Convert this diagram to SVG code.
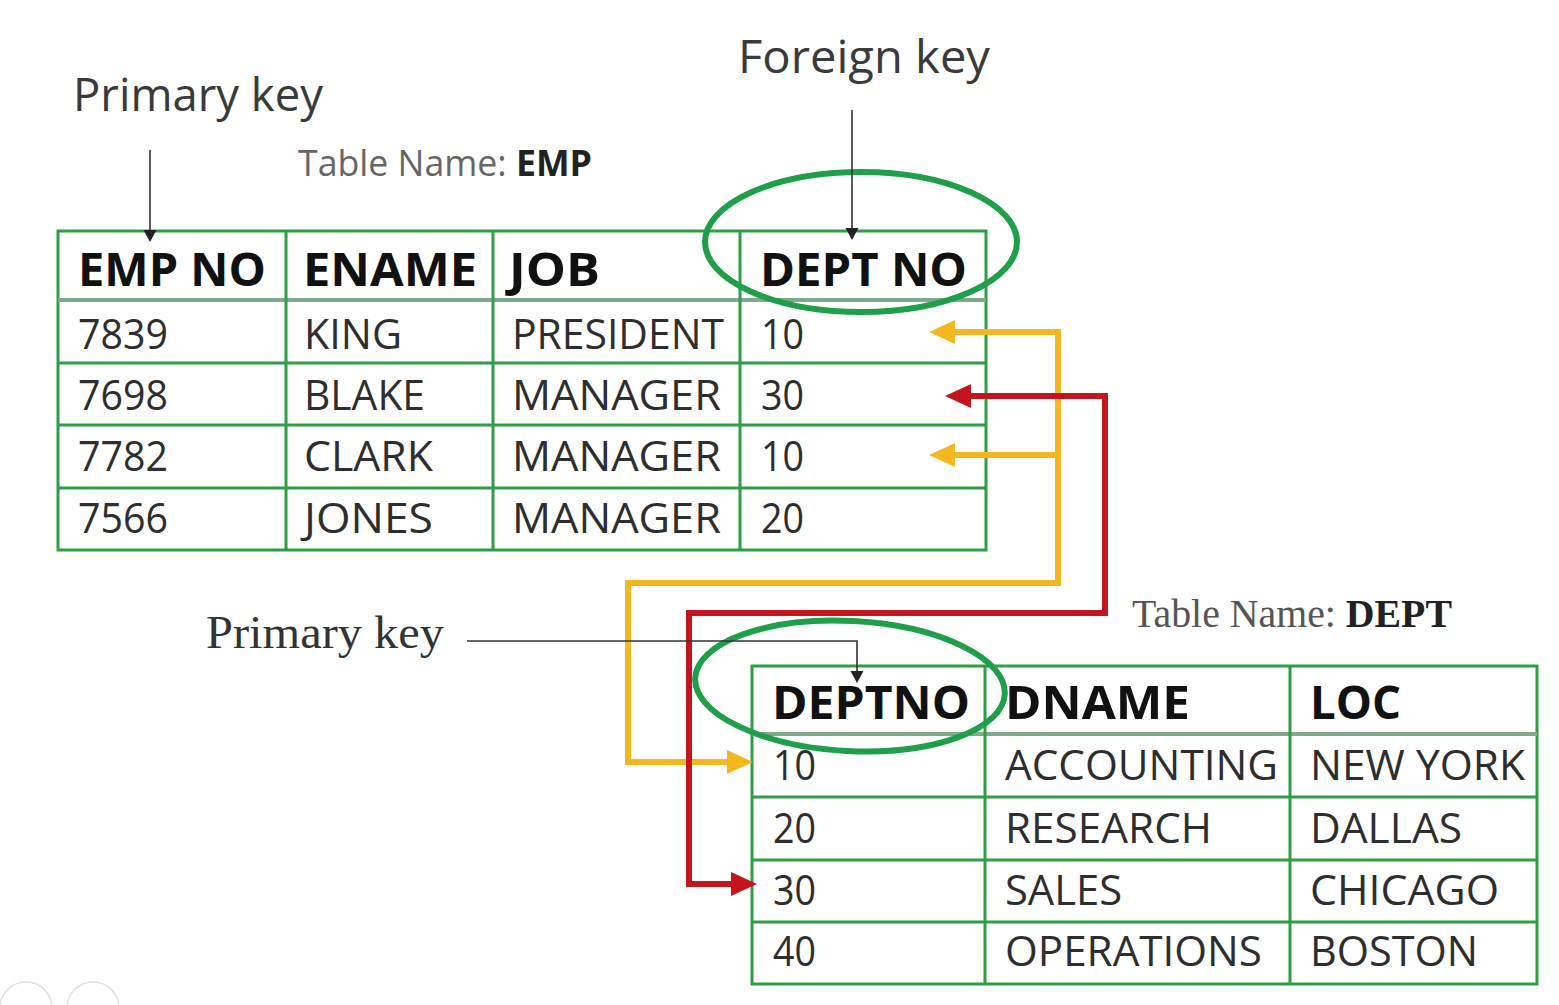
<svg xmlns="http://www.w3.org/2000/svg" width="1559" height="1005" viewBox="0 0 1559 1005">
<style>
.grid{stroke:#2f9e45;stroke-width:3;fill:none}
.hdrline{stroke:#7faa8a;stroke-width:4}
.hdr{font-family:"Open Sans","DejaVu Sans",sans-serif;font-weight:700;font-size:47px;fill:#111}
.cell{font-family:"Open Sans","DejaVu Sans",sans-serif;font-size:42px;fill:#2e2e2e}
.lbl{font-family:"Open Sans","DejaVu Sans",sans-serif;font-size:45px;fill:#3a3a3a}
.tn{font-family:"Open Sans","DejaVu Sans",sans-serif;font-size:36px;fill:#666}
.tns{font-family:"Liberation Serif","Times New Roman",serif;font-size:39px;fill:#555}
.lbls{font-family:"Liberation Serif","Times New Roman",serif;font-size:47px;fill:#333}
.b{font-weight:700;fill:#222}
.thin{stroke:#333;stroke-width:1.6;fill:none}
.yel{stroke:#f4b720;stroke-width:6;fill:none}
.red{stroke:#c4151c;stroke-width:6;fill:none}
.ell{stroke:#1ea04a;stroke-width:6;fill:none}
</style>
<defs>
<marker id="ahk" viewBox="0 -7 13 14" markerWidth="13" markerHeight="14" refX="0" refY="0" orient="auto" markerUnits="userSpaceOnUse"><path d="M0,-6.5 L12,0 L0,6.5 z" fill="#222"/></marker>
<marker id="ahy" viewBox="0 -13 27 26" markerWidth="27" markerHeight="26" refX="0" refY="0" orient="auto-start-reverse" markerUnits="userSpaceOnUse"><path d="M0,-12 L26,0 L0,12 z" fill="#f4b720"/></marker>
<marker id="ahr" viewBox="0 -13 27 26" markerWidth="27" markerHeight="26" refX="0" refY="0" orient="auto-start-reverse" markerUnits="userSpaceOnUse"><path d="M0,-12 L26,0 L0,12 z" fill="#c4151c"/></marker>
</defs>
<rect width="1559" height="1005" fill="#ffffff"/>

<g id="labels">
<text class="lbl" x="73" y="111" textLength="250" lengthAdjust="spacingAndGlyphs">Primary key</text>
<text class="lbl" x="738" y="73" textLength="252" lengthAdjust="spacingAndGlyphs">Foreign key</text>
<text class="tn" x="298" y="176" textLength="294" lengthAdjust="spacingAndGlyphs">Table Name: <tspan class="b">EMP</tspan></text>
<text class="lbls" x="206" y="648" textLength="238" lengthAdjust="spacingAndGlyphs">Primary key</text>
<text class="tns" x="1132" y="627" textLength="320" lengthAdjust="spacingAndGlyphs">Table Name: <tspan class="b">DEPT</tspan></text>
</g>

<g id="emp-table">
<rect class="grid" x="58" y="231" width="928" height="319"/>
<line class="hdrline" x1="58" y1="300" x2="986" y2="300"/>
<path class="grid" d="M58,363 H986 M58,425 H986 M58,488 H986 M286,231 V550 M493,231 V550 M740,231 V550"/>
<text class="hdr" x="78" y="286" textLength="188" lengthAdjust="spacingAndGlyphs">EMP NO</text>
<text class="hdr" x="303" y="286" textLength="174" lengthAdjust="spacingAndGlyphs">ENAME</text>
<text class="hdr" x="509" y="286" textLength="91" lengthAdjust="spacingAndGlyphs">JOB</text>
<text class="hdr" x="760" y="286" textLength="207" lengthAdjust="spacingAndGlyphs">DEPT NO</text>
<text class="cell" x="78" y="349" textLength="90" lengthAdjust="spacingAndGlyphs">7839</text>
<text class="cell" x="304" y="349" textLength="98" lengthAdjust="spacingAndGlyphs">KING</text>
<text class="cell" x="512" y="349" textLength="212" lengthAdjust="spacingAndGlyphs">PRESIDENT</text>
<text class="cell" x="761" y="349" textLength="43" lengthAdjust="spacingAndGlyphs">10</text>
<text class="cell" x="78" y="410" textLength="90" lengthAdjust="spacingAndGlyphs">7698</text>
<text class="cell" x="304" y="410" textLength="121" lengthAdjust="spacingAndGlyphs">BLAKE</text>
<text class="cell" x="512" y="410" textLength="209" lengthAdjust="spacingAndGlyphs">MANAGER</text>
<text class="cell" x="761" y="410" textLength="43" lengthAdjust="spacingAndGlyphs">30</text>
<text class="cell" x="78" y="471" textLength="90" lengthAdjust="spacingAndGlyphs">7782</text>
<text class="cell" x="304" y="471" textLength="129" lengthAdjust="spacingAndGlyphs">CLARK</text>
<text class="cell" x="512" y="471" textLength="209" lengthAdjust="spacingAndGlyphs">MANAGER</text>
<text class="cell" x="761" y="471" textLength="43" lengthAdjust="spacingAndGlyphs">10</text>
<text class="cell" x="78" y="533" textLength="90" lengthAdjust="spacingAndGlyphs">7566</text>
<text class="cell" x="304" y="533" textLength="129" lengthAdjust="spacingAndGlyphs">JONES</text>
<text class="cell" x="512" y="533" textLength="209" lengthAdjust="spacingAndGlyphs">MANAGER</text>
<text class="cell" x="761" y="533" textLength="43" lengthAdjust="spacingAndGlyphs">20</text>
</g>

<g id="dept-table">
<rect class="grid" x="752" y="666" width="785" height="318"/>
<line class="hdrline" x1="752" y1="734" x2="1537" y2="734"/>
<path class="grid" d="M752,797 H1537 M752,860 H1537 M752,922 H1537 M985,666 V984 M1290,666 V984"/>
<text class="hdr" x="772" y="719" textLength="198" lengthAdjust="spacingAndGlyphs">DEPTNO</text>
<text class="hdr" x="1005" y="719" textLength="185" lengthAdjust="spacingAndGlyphs">DNAME</text>
<text class="hdr" x="1310" y="719" textLength="91" lengthAdjust="spacingAndGlyphs">LOC</text>
<text class="cell" x="773" y="780" textLength="43" lengthAdjust="spacingAndGlyphs">10</text>
<text class="cell" x="1005" y="780" textLength="273" lengthAdjust="spacingAndGlyphs">ACCOUNTING</text>
<text class="cell" x="1310" y="780" textLength="215" lengthAdjust="spacingAndGlyphs">NEW YORK</text>
<text class="cell" x="773" y="843" textLength="43" lengthAdjust="spacingAndGlyphs">20</text>
<text class="cell" x="1005" y="843" textLength="207" lengthAdjust="spacingAndGlyphs">RESEARCH</text>
<text class="cell" x="1310" y="843" textLength="152" lengthAdjust="spacingAndGlyphs">DALLAS</text>
<text class="cell" x="773" y="905" textLength="43" lengthAdjust="spacingAndGlyphs">30</text>
<text class="cell" x="1005" y="905" textLength="117" lengthAdjust="spacingAndGlyphs">SALES</text>
<text class="cell" x="1310" y="905" textLength="189" lengthAdjust="spacingAndGlyphs">CHICAGO</text>
<text class="cell" x="773" y="966" textLength="43" lengthAdjust="spacingAndGlyphs">40</text>
<text class="cell" x="1005" y="966" textLength="257" lengthAdjust="spacingAndGlyphs">OPERATIONS</text>
<text class="cell" x="1310" y="966" textLength="168" lengthAdjust="spacingAndGlyphs">BOSTON</text>
</g>

<g id="connectors">
<path class="yel" d="M955,332 H1058 V583 H628 V762 H727" marker-start="url(#ahy)" marker-end="url(#ahy)"/>
<path class="yel" d="M1058,455 H955" marker-end="url(#ahy)"/>
<path class="red" d="M971,396 H1105 V613 H689 V884 H731" marker-start="url(#ahr)" marker-end="url(#ahr)"/>
<ellipse id="fk-circle" class="ell" cx="861" cy="242" rx="156" ry="70"/>
<ellipse id="pk-circle" class="ell" cx="850" cy="686" rx="155" ry="65" transform="rotate(3 850 686)"/>
<path class="thin" d="M150,150 V230" marker-end="url(#ahk)"/>
<path class="thin" d="M852,110 V228" marker-end="url(#ahk)"/>
<path class="thin" d="M467,641 H857 V671" marker-end="url(#ahk)"/>
</g>

<g id="player-controls" fill="none" stroke="#e2e2e2" stroke-width="1.5">
<circle cx="26" cy="1008" r="26"/>
<circle cx="93" cy="1008" r="26"/>
</g>
</svg>
